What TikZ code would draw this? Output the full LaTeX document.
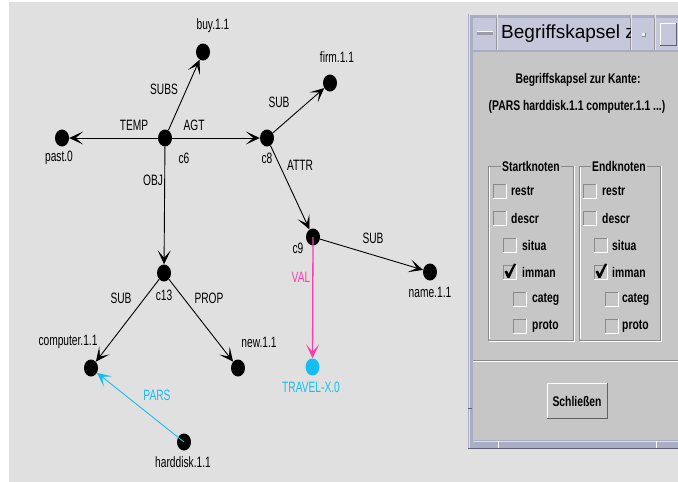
\documentclass[tikz,border=0pt]{standalone}
\usepackage{fontspec}
\setmainfont{Liberation Sans}
\newfontfamily\graphfont[FakeStretch=0.68]{Liberation Sans}
\newfontfamily\panelfont[FakeStretch=0.74]{Liberation Sans}
\usetikzlibrary{arrows.meta,shapes.geometric}

\definecolor{canvas}{RGB}{224,224,224}
\definecolor{winframe}{RGB}{170,174,196}
\definecolor{titlebg}{RGB}{196,200,218}
\definecolor{panelbg}{RGB}{198,198,198}
\definecolor{etchdark}{RGB}{138,138,138}
\definecolor{framedark}{RGB}{92,96,112}
\definecolor{valpink}{RGB}{255,60,170}
\definecolor{parscyan}{RGB}{20,190,240}

\tikzset{
  concept/.style={ellipse, fill=black, minimum width=14pt, minimum height=17pt, inner sep=0pt},
  tip/.style={-{Stealth[length=14pt,width=13pt,inset=7.5pt]}},
  relation/.style={color=black, line width=0.9pt, tip},
  lbl/.style={font=\graphfont\fontsize{15}{15}\selectfont, inner sep=0pt},
  ptext/.style={font=\panelfont\bfseries\fontsize{14}{15}\selectfont, inner sep=0pt},
  ckbox/.pic={
    \fill[panelbg] (0,0) rectangle (13,14);
    \draw[etchdark, line width=1pt] (0,14) -- (0,0) -- (13,0);
    \draw[white, line width=1pt] (13,0) -- (13,14) -- (0,14);
  },
  ckmark/.pic={
    \fill[black] (1.5,6.5) -- (4,5.5) -- (5.5,9) -- (11,-1.5) -- (13,-1) -- (6.5,13) -- (4.5,13) -- cycle;
  },
}

\begin{document}
\begin{tikzpicture}[x=1pt, y=-1pt]
\useasboundingbox (0,0) rectangle (678,482);
\fill[white] (0,0) rectangle (678,482);
\fill[canvas] (9,2) rectangle (678,482);

% ---------------- semantic network ----------------
\node[concept] (c6)   at (165,138) {};
\node[concept] (past) at (62,138) {};
\node[concept] (buy)  at (203,52) {};
\node[concept] (c8)   at (267,138) {};
\node[concept] (firm) at (330,83) {};
\node[concept] (c9)   at (313,237) {};
\node[concept] (name) at (430,272) {};
\node[concept, fill=parscyan] (travel) at (312.5,367) {};
\node[concept] (c13)  at (164,273) {};
\node[concept] (comp) at (91,368) {};
\node[concept] (new)  at (238,368) {};
\node[concept] (hdd)  at (184,442) {};

\draw[relation] (c6) -- (past);
\draw[relation] (c6) -- (buy);
\draw[relation] (c6) -- (c8);
\draw[relation] (c6) -- (c13);
\draw[relation] (c8) -- (firm);
\draw[relation] (c8) -- (c9);
\draw[relation] (c9) -- (name);
\draw[relation, color=valpink, line width=1.3pt] (c9.center) -- (travel);
\draw[relation] (c13) -- (comp);
\draw[relation] (c13) -- (new);
\draw[relation, color=parscyan] (hdd.center) -- (comp);

% node names
\node[lbl] (l-buy)  at (213,26)  {buy.1.1};
\node[lbl] (l-past) at (59,158)  {past.0};
\node[lbl] (l-c6)   at (184,158) {c6};
\node[lbl] (l-firm) at (337,57)  {firm.1.1};
\node[lbl] (l-c8)   at (267,158) {c8};
\node[lbl] (l-c9)   at (298,248) {c9};
\node[lbl] (l-name) at (430,292) {name.1.1};
\node[lbl, text=parscyan] (l-travel) at (311,387) {TRAVEL-X.0};
\node[lbl] (l-c13)  at (164,295) {c13};
\node[lbl] (l-comp) at (68,342)  {computer.1.1};
\node[lbl] (l-new)  at (259,342) {new.1.1};
\node[lbl] (l-hdd)  at (183,462) {harddisk.1.1};

% relation names
\node[lbl] (r-temp) at (134,125) {TEMP};
\node[lbl] (r-agt)  at (194,125) {AGT};
\node[lbl] (r-subs) at (164,89)  {SUBS};
\node[lbl] (r-obj)  at (153,180) {OBJ};
\node[lbl] (r-sub1) at (279,102) {SUB};
\node[lbl] (r-attr) at (300,165) {ATTR};
\node[lbl] (r-sub2) at (373,238) {SUB};
\node[lbl, text=valpink] (r-val) at (301,277) {VAL};
\node[lbl] (r-sub3) at (121,298) {SUB};
\node[lbl] (r-prop) at (209,298) {PROP};
\node[lbl, text=parscyan] (r-pars) at (157,395) {PARS};

% ---------------- dialog window ----------------
\fill[winframe] (468,14) rectangle (680,449);
\draw[white!60!winframe, line width=1pt] (469,449) -- (469,14) -- (680,14);
\fill[titlebg] (473,18) rectangle (680,50);
\foreach \sx in {497,631,655} {
  \draw[white!55!titlebg, line width=1pt] (\sx,13) -- (\sx,50);
  \draw[etchdark!80!titlebg, line width=0.6pt] (\sx-1,18) -- (\sx-1,50);
}
% minimise bar
\fill[etchdark!70!titlebg] (477,31.5) rectangle (493,35);
\draw[white, line width=0.7pt] (477,31.5) -- (493,31.5);
% title
\begin{scope}
  \clip (498,18) rectangle (630,50);
  \node[anchor=west, inner sep=0pt, font=\fontsize{19}{19}\selectfont] (wtitle) at (501,34) {Begriffskapsel z};
\end{scope}
% menu dot
\fill[white!70!titlebg] (641.5,32.5) rectangle (645,36);
\draw[etchdark, line width=0.5pt] (645,32.5) -- (645,36) -- (641.5,36);
% maximise square
\draw[white, line width=1pt] (660,45) -- (660,23) -- (676,23);
\draw[framedark, line width=1pt] (676,23) -- (676,45) -- (660,45);

% body
\fill[panelbg] (473,52) rectangle (680,440);
\draw[framedark, line width=1.5pt] (468,448.5) -- (680,448.5);
\draw[white!60!winframe, line width=1pt] (473,441) -- (680,441);
\foreach \tx in {498,656} \draw[white, line width=0.8pt] (\tx,441) -- (\tx,448);
\draw[framedark, line width=1pt] (468,408) -- (472,408);

\node[ptext] (heading) at (578,80)  {Begriffskapsel zur Kante:};
\node[ptext] (edgeinfo) at (577,107) {(PARS harddisk.1.1 computer.1.1 ...)};

% group boxes
\foreach \gl/\gr in {488/573.5, 579/660} {
  \draw[etchdark, line width=0.8pt] (\gl,166) rectangle (\gr,340);
  \draw[white, line width=0.8pt] (\gl+1,167) -- (\gl+1,339) (\gl+1,341) -- (\gr+1,341) -- (\gr+1,166);
}
\node[ptext, fill=panelbg, inner xsep=1.5pt, inner ysep=1pt] (gstart) at (531,166) {Startknoten};
\node[ptext, fill=panelbg, inner xsep=1.5pt, inner ysep=1pt] (gend)   at (619,166) {Endknoten};

% check boxes: Startknoten
\pic at (493,184) {ckbox};  \node[ptext, anchor=west] (s-restr) at (511,191) {restr};
\pic at (493,211) {ckbox};  \node[ptext, anchor=west] (s-descr) at (511,218) {descr};
\pic at (503,238) {ckbox};  \node[ptext, anchor=west] (s-situa) at (522,245) {situa};
\pic at (503,265) {ckbox};  \pic at (503,265) {ckmark};
                            \node[ptext, anchor=west] (s-imman) at (522,272) {imman};
\pic at (513,292) {ckbox};  \node[ptext, anchor=west] (s-categ) at (532,299) {categ};
\pic at (513,319) {ckbox};  \node[ptext, anchor=west] (s-proto) at (532,326) {proto};

% check boxes: Endknoten
\pic at (583,184) {ckbox};  \node[ptext, anchor=west] (e-restr) at (602,191) {restr};
\pic at (583,211) {ckbox};  \node[ptext, anchor=west] (e-descr) at (602,218) {descr};
\pic at (594,238) {ckbox};  \node[ptext, anchor=west] (e-situa) at (612,245) {situa};
\pic at (594,265) {ckbox};  \pic at (594,265) {ckmark};
                            \node[ptext, anchor=west] (e-imman) at (612,272) {imman};
\pic at (605,292) {ckbox};  \node[ptext, anchor=west] (e-categ) at (622,299) {categ};
\pic at (605,319) {ckbox};  \node[ptext, anchor=west] (e-proto) at (622,326) {proto};

% separator
\draw[etchdark, line width=1pt] (473,360) -- (680,360);
\draw[white, line width=1pt] (473,361.5) -- (680,361.5);

% close button
\fill[panelbg] (547,383) rectangle (607,418);
\draw[white, line width=1pt] (547,418) -- (547,383) -- (607,383);
\draw[etchdark!70!black, line width=1pt] (607,383) -- (607,418) -- (547,418);
\node[ptext] (close) at (577,401) {Schließen};
\end{tikzpicture}
\end{document}
